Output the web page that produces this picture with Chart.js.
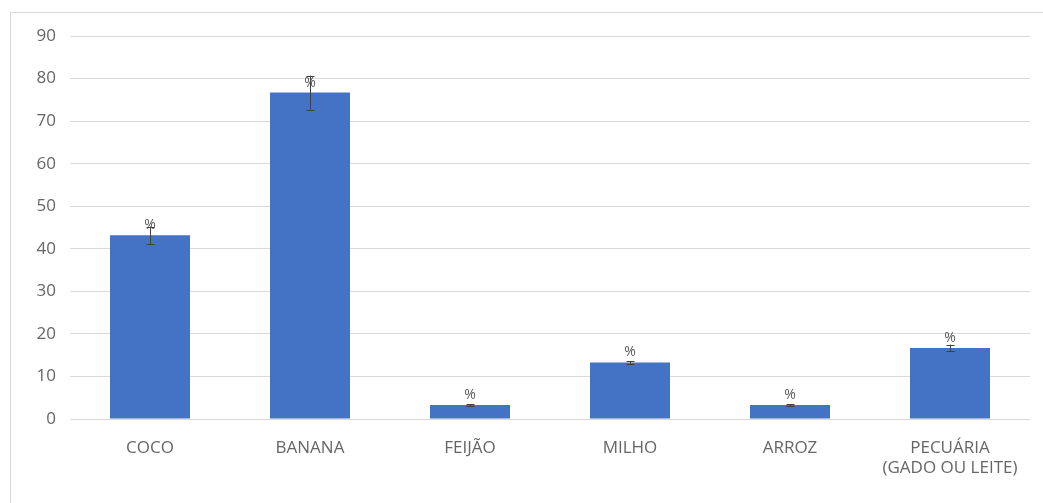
<!DOCTYPE html>
<html>
<head>
<meta charset="utf-8">
<script src="https://cdn.jsdelivr.net/npm/chart.js@4"></script>
<style>
  html, body { margin: 0; padding: 0; background: #fff; }
  #wrap { width: 1043px; height: 503px; }
</style>
</head>
<body>
<div id="wrap"><canvas id="myChart" width="1043" height="503"></canvas></div>
<script>
// data
const categories = ["COCO", "BANANA", "FEIJÃO", "MILHO", "ARROZ", ["PECUÁRIA", "(GADO OU LEITE)"]];
const values = [43.2, 76.7, 3.3, 13.3, 3.3, 16.7];
const errors = [2.0, 4.0, 0.2, 0.3, 0.2, 0.8];
const pointLabels = ["%", "%", "%", "%", "%", "%"];

const textColor = "#666666";
const fontFamily = "'Open Sans', sans-serif";

// light frame around the whole chart
const frame = {
  id: "frame",
  beforeDraw(chart) {
    const { ctx } = chart;
    ctx.save();
    ctx.strokeStyle = "#d9d9d9";
    ctx.lineWidth = 1;
    ctx.strokeRect(10.5, 12.5, 1100, 600);
    ctx.restore();
  },
};

// error bars and the "%" labels over each bar
const errorBars = {
  id: "errorBars",
  afterDatasetsDraw(chart) {
    const { ctx, scales: { y } } = chart;
    const meta = chart.getDatasetMeta(0);
    ctx.save();
    meta.data.forEach((bar, i) => {
      const x = Math.round(bar.x) + 0.5;
      const top = y.getPixelForValue(values[i] + errors[i]);
      const bottom = y.getPixelForValue(values[i] - errors[i]);
      ctx.strokeStyle = "#404040";
      ctx.lineWidth = 1;
      ctx.beginPath();
      ctx.moveTo(x, top);
      ctx.lineTo(x, bottom);
      ctx.moveTo(x - 4, Math.round(top) + 0.5);
      ctx.lineTo(x + 4, Math.round(top) + 0.5);
      ctx.moveTo(x - 4, Math.round(bottom) + 0.5);
      ctx.lineTo(x + 4, Math.round(bottom) + 0.5);
      ctx.stroke();

      ctx.font = "14px " + fontFamily;
      ctx.fillStyle = "#595959";
      ctx.textAlign = "center";
      ctx.textBaseline = "bottom";
      ctx.fillText(pointLabels[i], bar.x, bar.y - 3);
    });
    ctx.restore();
  },
};

const config = {
  type: "bar",
  data: {
    labels: categories,
    datasets: [
      {
        data: values,
        backgroundColor: "#4472c4",
        borderWidth: 0,
        categoryPercentage: 1,
        barPercentage: 0.5,
      },
    ],
  },
  options: {
    responsive: false,
    animation: false,
    layout: {
      padding: { left: 0, right: 13, top: 36, bottom: 0 },
    },
    plugins: {
      legend: { display: false },
      tooltip: { enabled: false },
    },
    scales: {
      x: {
        grid: { display: false },
        border: { display: false },
        ticks: {
          color: textColor,
          font: { family: fontFamily, size: 17 },
          padding: 11,
          maxRotation: 0,
          autoSkip: false,
        },
        afterFit(scale) {
          scale.height = 84;
        },
      },
      y: {
        min: 0,
        max: 90,
        grid: { color: "#d9d9d9", drawTicks: false },
        border: { display: false },
        ticks: {
          stepSize: 10,
          color: textColor,
          font: { family: fontFamily, size: 17 },
          padding: 14,
        },
        afterFit(scale) {
          scale.width = 70;
        },
      },
    },
  },
  plugins: [frame, errorBars],
};

const myChart = new Chart(document.getElementById("myChart"), config);
</script>
</body>
</html>
